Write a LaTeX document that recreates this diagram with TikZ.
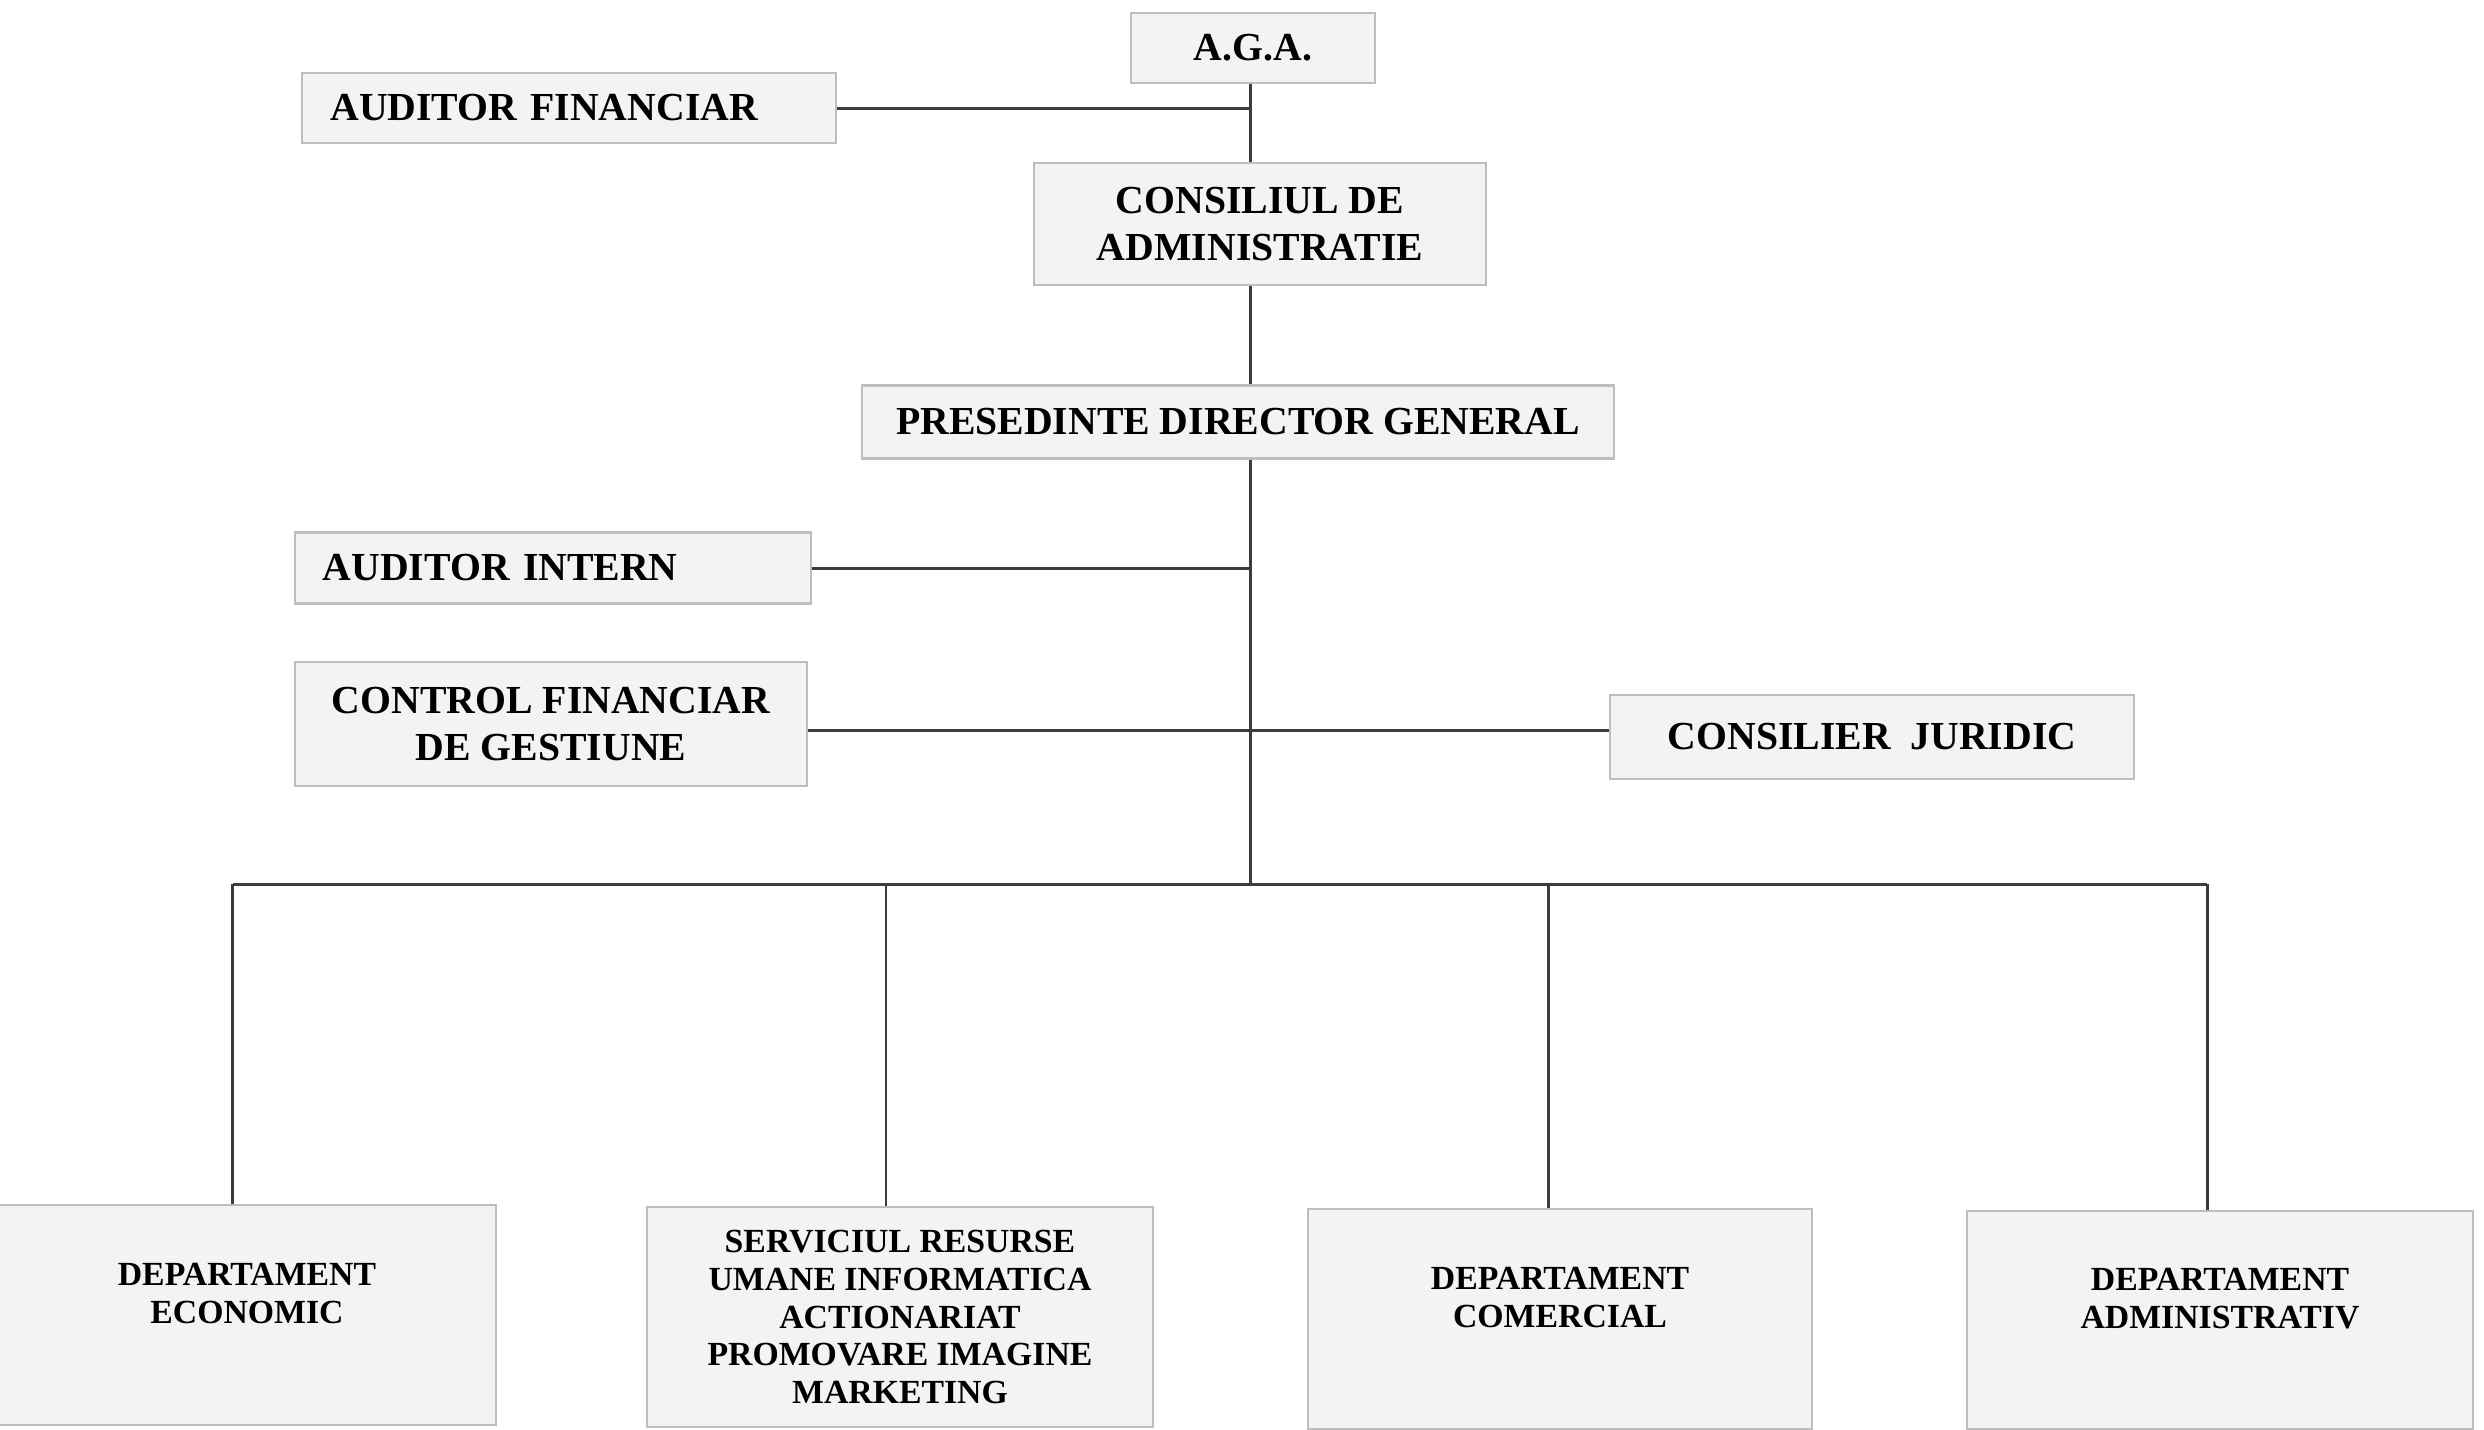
\documentclass[tikz,border=0pt]{standalone}
\usepackage{fontspec}
\setmainfont{Liberation Serif}
\usetikzlibrary{calc}
\definecolor{boxbg}{RGB}{243,243,243}
\definecolor{boxln}{RGB}{190,190,190}
\definecolor{l1}{RGB}{60,60,60}

\begin{document}
\begin{tikzpicture}[
    x=0.01cm, y=-0.01cm,
    font=\bfseries\fontsize{11.3}{13.2}\selectfont,
    l/.style={
        line width=0.85pt,
        color=l1
    },
    e/.style={
        fill=boxbg, draw=boxln, line width=0.6pt,
        inner sep=0pt, align=center
    },
    d/.style={
        e, font=\bfseries\fontsize{9.6}{10.7}\selectfont
    }
]

    \useasboundingbox (0,0) rectangle (2484,1429);

    \node [e, minimum width=2.43cm, minimum height=0.70cm] (aga) at (1253, 48) {A.G.A.};
    \node [e, minimum width=5.33cm, minimum height=0.70cm, text width=4.77cm, align=left] (audfin) at (569, 108) {AUDITOR FINANCIAR};
    \node [e, minimum width=4.52cm, minimum height=1.22cm] (cons) at (1260, 224) {CONSILIUL DE\\ADMINISTRATIE};
    \node [e, minimum width=7.51cm, minimum height=0.73cm] (pdg) at (1238, 422) {PRESEDINTE DIRECTOR GENERAL};
    \node [e, minimum width=5.16cm, minimum height=0.71cm, text width=4.60cm, align=left] (audint) at (553, 568) {AUDITOR INTERN};
    \node [e, minimum width=5.11cm, minimum height=1.24cm] (cfg) at (551, 724) {CONTROL FINANCIAR\\DE GESTIUNE};
    \node [e, minimum width=5.23cm, minimum height=0.84cm] (cj) at (1872, 737) {CONSILIER\ \ JURIDIC};

    \node [d, minimum width=4.97cm, minimum height=2.20cm] (econ) at (247, 1315) {DEPARTAMENT\\ECONOMIC\\[1.5pt]};
    \node [d, minimum width=5.05cm, minimum height=2.20cm] (serv) at (900, 1317) {SERVICIUL RESURSE\\UMANE INFORMATICA\\ACTIONARIAT\\PROMOVARE IMAGINE\\MARKETING};
    \node [d, minimum width=5.04cm, minimum height=2.20cm] (com) at (1560, 1319) {DEPARTAMENT\\COMERCIAL\\[1.5pt]};
    \node [d, minimum width=5.06cm, minimum height=2.18cm] (adm) at (2220, 1320) {DEPARTAMENT\\ADMINISTRATIV\\[1.5pt]};

    % spine and junctions
    \coordinate (spine) at (1250, 0);
    \coordinate (mid) at (1250, 730);
    \coordinate (bus) at (1250, 884);

    \draw [l] (spine |- aga.south) -- (spine |- cons.north);
    \draw [l] (spine |- cons.south) -- (spine |- pdg.north);
    \draw [l] (spine |- pdg.south) -- (bus);
    \draw [l] (audfin.east) -- (spine |- audfin.east);
    \draw [l] (audint.east) -- (spine |- audint.east);
    \draw [l] (cfg.east |- mid) -- (mid) -- (cj.west |- mid);

    \draw [l] ([xshift=-0.14cm]econ.north |- bus) -- ([xshift=-0.13cm]adm.north |- bus);
    \draw ([xshift=-0.14cm]econ.north |- bus) edge [l] ([xshift=-0.14cm]econ.north);
    \draw ([xshift=-0.14cm]serv.north |- bus) edge [l] ([xshift=-0.14cm]serv.north);
    \draw ([xshift=-0.12cm]com.north |- bus) edge [l] ([xshift=-0.12cm]com.north);
    \draw ([xshift=-0.13cm]adm.north |- bus) edge [l] ([xshift=-0.13cm]adm.north);

\end{tikzpicture}
\end{document}
